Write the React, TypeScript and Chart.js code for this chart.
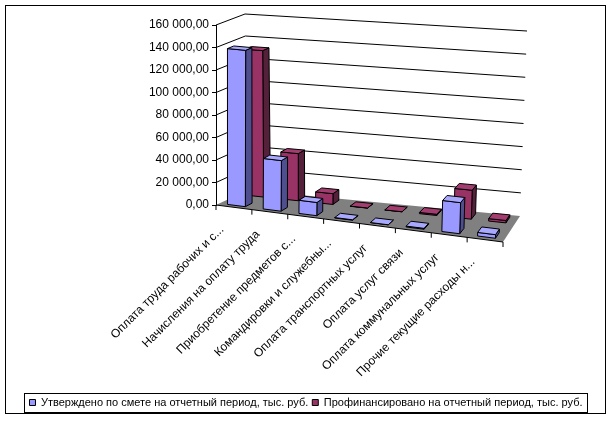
import { useEffect, useRef } from 'react';
import { Chart, registerables, CategoryScale } from 'chart.js';

// Chart data
const categories = [
  'Оплата труда рабочих и с...',
  'Начисления на оплату труда',
  'Приобретение предметов с...',
  'Командировки и служебны...',
  'Оплата транспортных услуг',
  'Оплата услуг связи',
  'Оплата коммунальных услуг',
  'Прочие текущие расходы н...',
];
const approved = [139000, 45000, 12000, 800, 400, 1200, 27000, 3500];
const financed = [132000, 42500, 10000, 600, 500, 1500, 25500, 2500];
const seriesNames = [
  'Утверждено по смете на отчетный период, тыс. руб.',
  'Профинансировано на отчетный период, тыс. руб.',
];
const yMax = 160000;
const yStep = 20000;

// 3D look
const FRONT_DROP = 37; // front edge of the floor slopes down to the right
const LABEL_DX = -12;
const LABEL_DY = 8;
const DEPTHS = [
  [0.08, 0.3],
  [0.68, 0.9],
];
const SHADES = [
  { front: '#9999FF', side: '#4F4F8F', top: '#A8A8FF' },
  { front: '#993366', side: '#55203A', top: '#A33D70' },
];
const FONT = "'Liberation Sans', Arial, sans-serif";

const fmt = (v: number) => String(v).replace(/\B(?=(\d{3})+(?!\d))/g, ' ') + ',00';
const lerp = (a: number, b: number, t: number) => a + (b - a) * t;

type P = [number, number];
type Quad = { p00: P; p10: P; p01: P; p11: P };

function makeProjector(area: any) {
  const { left: L, right: R, top: T, bottom: B } = area;
  const front: Quad = { p00: [L, B], p10: [R, B + FRONT_DROP], p01: [L, T], p11: [R + 6, T + 28] };
  const back: Quad = { p00: [L + 32, B - 15], p10: [R + 17, B + 11], p01: [L + 29, T - 11], p11: [R + 24, T + 6] };
  const bil = (q: Quad, u: number, w: number): P => {
    const bx = lerp(q.p00[0], q.p10[0], u);
    const by = lerp(q.p00[1], q.p10[1], u);
    const tx = lerp(q.p01[0], q.p11[0], u);
    const ty = lerp(q.p01[1], q.p11[1], u);
    return [lerp(bx, tx, w), lerp(by, ty, w)];
  };
  return (u: number, w: number, d: number): P => {
    const f = bil(front, u, w);
    const b = bil(back, u, w);
    return [lerp(f[0], b[0], d), lerp(f[1], b[1], d)];
  };
}

function poly(ctx: CanvasRenderingContext2D, pts: P[], fill?: string, stroke = '#000') {
  ctx.beginPath();
  pts.forEach(([x, y], i) => (i ? ctx.lineTo(x, y) : ctx.moveTo(x, y)));
  ctx.closePath();
  if (fill) {
    ctx.fillStyle = fill;
    ctx.fill();
  }
  if (stroke) {
    ctx.strokeStyle = stroke;
    ctx.lineWidth = 1;
    ctx.stroke();
  }
}

// category axis whose labels follow the sloping front edge
class SlopedCategoryScale extends CategoryScale {
  static id = 'slopedCategory';
  static defaults = CategoryScale.defaults;
  _computeLabelItems(chartArea: any) {
    const items = (super._computeLabelItems as any)(chartArea);
    const span = this.right - this.left;
    for (const item of items) {
      const [x, y] = item.options.translation;
      const u = (x - this.left) / span;
      item.options.translation = [x + LABEL_DX, y + FRONT_DROP * u + LABEL_DY];
    }
    return items;
  }
}

Chart.register(...registerables, SlopedCategoryScale as any);

const scenePlugin = {
  id: 'scene3d',
  beforeDatasetsDraw(chart: any) {
    const { ctx, chartArea } = chart;
    const { left: L, right: R, top: T, bottom: B } = chartArea;
    const proj = makeProjector(chartArea);
    const ys = chart.scales.y;
    ctx.save();

    // floor
    poly(ctx, [proj(0, 0, 0), proj(1, 0, 0), proj(1, 0, 1), proj(0, 0, 1)], '#808080', '');

    // walls gridlines
    ctx.strokeStyle = '#000';
    ctx.lineWidth = 1;
    ys.ticks.forEach((t: any) => {
      if (t.value === 0) return;
      const w = (B - ys.getPixelForValue(t.value)) / (B - T);
      const a = proj(0, w, 0), b = proj(0, w, 1), c = proj(1, w, 1);
      ctx.beginPath();
      ctx.moveTo(a[0], a[1]);
      ctx.lineTo(b[0], b[1]);
      ctx.lineTo(c[0], c[1]);
      ctx.stroke();
    });

    // category axis along front edge
    const fl = proj(0, 0, 0), fr = proj(1, 0, 0);
    ctx.beginPath();
    ctx.moveTo(fl[0], fl[1]);
    ctx.lineTo(fr[0], fr[1]);
    for (let k = 0; k <= categories.length; k++) {
      const p = proj(k / categories.length, 0, 0);
      ctx.moveTo(p[0], p[1]);
      ctx.lineTo(p[0], p[1] + 5);
    }
    ctx.stroke();

    // bars, back series first
    [1, 0].forEach((ds) => {
      const meta = chart.getDatasetMeta(ds);
      const [d0, d1] = DEPTHS[ds];
      const sh = SHADES[ds];
      meta.data.forEach((el: any) => {
        const { x, y, base, width } = el.getProps(['x', 'y', 'base', 'width'], true);
        const u0 = (x - width / 2 - L) / (R - L);
        const u1 = (x + width / 2 - L) / (R - L);
        const w0 = (B - base) / (B - T);
        const w1 = (B - y) / (B - T);
        poly(ctx, [proj(u1, w0, d0), proj(u1, w0, d1), proj(u1, w1, d1), proj(u1, w1, d0)], sh.side);
        poly(ctx, [proj(u0, w0, d0), proj(u1, w0, d0), proj(u1, w1, d0), proj(u0, w1, d0)], sh.front);
        poly(ctx, [proj(u0, w1, d0), proj(u1, w1, d0), proj(u1, w1, d1), proj(u0, w1, d1)], sh.top);
      });
    });

    ctx.restore();
    return false;
  },
  afterDraw(chart: any) {
    const { ctx, legend } = chart;
    ctx.save();
    ctx.strokeStyle = '#000';
    ctx.lineWidth = 1;
    ctx.strokeRect(5.5, 5.5, 600, 408);
    const boxes = legend.legendHitBoxes || [];
    if (boxes.length) {
      const l = Math.min(...boxes.map((b: any) => b.left)) - 5;
      const r = Math.max(...boxes.map((b: any) => b.left + b.width)) + 5;
      const cy = boxes[0].top + boxes[0].height / 2;
      ctx.strokeRect(Math.round(l) + 0.5, Math.round(cy - 9.5) + 0.5, Math.round(r - l), 19);
    }
    ctx.restore();
  },
};

export default function App() {
  const canvasRef = useRef<HTMLCanvasElement>(null);
  const chartRef = useRef<Chart | null>(null);

  useEffect(() => {
    if (!canvasRef.current) return;
    if (chartRef.current) chartRef.current.destroy();

    Chart.defaults.font.family = FONT;
    Chart.defaults.color = '#000';

    chartRef.current = new Chart(canvasRef.current, {
      type: 'bar',
      data: {
        labels: categories,
        datasets: [
          {
            label: seriesNames[0],
            data: approved,
            backgroundColor: SHADES[0].front,
            borderColor: '#000',
            borderWidth: 1,
            grouped: false,
            categoryPercentage: 1,
            barPercentage: 0.5,
          },
          {
            label: seriesNames[1],
            data: financed,
            backgroundColor: SHADES[1].front,
            borderColor: '#000',
            borderWidth: 1,
            grouped: false,
            categoryPercentage: 1,
            barPercentage: 0.5,
          },
        ],
      },
      options: {
        responsive: false,
        animation: false,
        layout: { padding: { top: 25, right: 0, bottom: 4, left: 0 } },
        scales: {
          x: {
            type: 'slopedCategory' as any,
            grid: { display: false },
            border: { display: false },
            ticks: { autoSkip: false, minRotation: 45, maxRotation: 45, padding: 0, font: { size: 12 }, color: '#000' },
            afterFit: (s: any) => {
              s.height = 188;
            },
          },
          y: {
            min: 0,
            max: yMax,
            ticks: { stepSize: yStep, callback: (v: any) => fmt(Number(v)), padding: 3, font: { size: 12 }, color: '#000' },
            grid: { drawOnChartArea: false, drawTicks: true, tickLength: 4, color: '#000' },
            border: { display: true, color: '#000' },
            afterFit: (s: any) => {
              s.width = 216;
            },
          },
          // empty right-hand axis, only keeps room for the 3D depth of the plot
          depth: {
            type: 'linear',
            axis: 'y',
            position: 'right',
            grid: { display: false },
            border: { display: false },
            ticks: { display: false },
            afterFit: (s: any) => {
              s.width = 109;
            },
          },
        },
        plugins: {
          legend: {
            position: 'bottom',
            labels: { boxWidth: 6, boxHeight: 6, padding: 4, font: { size: 11 }, color: '#000' },
          },
          tooltip: { enabled: false },
        },
      },
      plugins: [scenePlugin],
    });

    return () => {
      if (chartRef.current) {
        chartRef.current.destroy();
        chartRef.current = null;
      }
    };
  }, []);

  return (
    <div style={{ position: 'fixed', left: 0, top: 0, width: '612px', height: '422px', background: '#fff' }}>
      <canvas ref={canvasRef} width={612} height={422} style={{ width: '612px', height: '422px' }} />
    </div>
  );
}
